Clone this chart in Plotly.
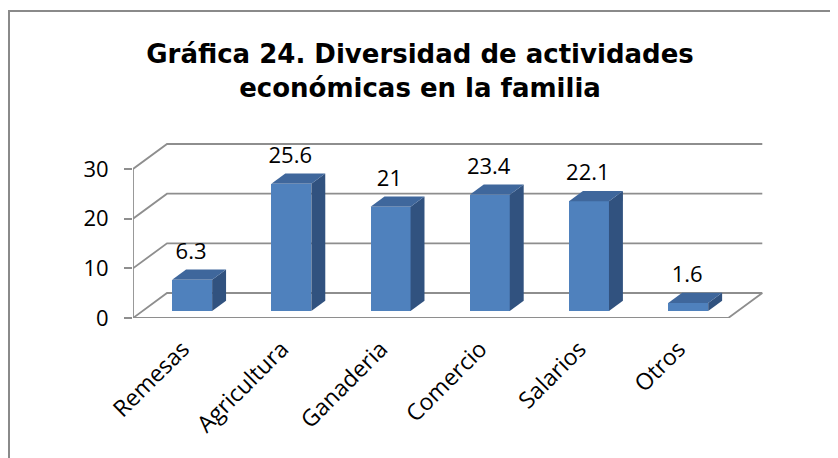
import plotly.graph_objects as go

categories = ["Remesas", "Agricultura", "Ganaderia", "Comercio", "Salarios", "Otros"]
values = [6.3, 25.6, 21, 23.4, 22.1, 1.6]
y_ticks = [0, 10, 20, 30]
value_labels = ["6.3", "25.6", "21", "23.4", "22.1", "1.6"]

# oblique projection of the 3-D box (in data units)
DX, DY = 0.3428, 5.033      # full depth offset
T0, T1 = 0.28, 0.69         # bar front / back depth
HALF_W = 0.2015             # half bar width
N = len(categories)

GRID = "#8e8e8e"
FRONT = "#4F81BD"
TOP = "#3f679c"
SIDE = "#31527f"
LABEL_FONT = "Open Sans, sans-serif"

W, H = 830, 450
ML, MR, MT, MB = 125, 75, 135, 140

fig = go.Figure()

shapes = []
# walls: gridlines on side and back wall
for v in y_ticks:
    shapes.append(dict(type="path", xref="x", yref="y", layer="below",
                       path=f"M 0,{v} L {DX},{v + DY} L {N + DX},{v + DY}",
                       line=dict(color=GRID, width=1.8)))
# floor front edge and right edge
shapes.append(dict(type="path", xref="x", yref="y", layer="below",
                   path=f"M 0,0 L {N},0 L {N + DX},{DY}",
                   line=dict(color=GRID, width=1.8)))
# front vertical axis line
shapes.append(dict(type="line", xref="x", yref="y", layer="below",
                   x0=0, y0=y_ticks[0], x1=0, y1=y_ticks[-1],
                   line=dict(color=GRID, width=1.8)))
# chart area frame (left and top edges)
fx = -(ML - 1) / (W - ML - MR)
fy = (H - MB - 3) / (H - MT - MB)
shapes.append(dict(type="path", xref="paper", yref="paper", layer="below",
                   path=f"M {fx},-1.2 L {fx},{fy} L 1.3,{fy}",
                   line=dict(color="#8a8a8a", width=2)))

# bars: front faces
fig.add_trace(go.Bar(
    x=[i + 0.5 + T0 * DX for i in range(N)],
    y=values,
    base=[T0 * DY] * N,
    width=2 * HALF_W,
    marker=dict(color=FRONT, line=dict(width=0)),
    hoverinfo="skip", showlegend=False,
))

# side and top faces
for i, v in enumerate(values):
    xl = i + 0.5 - HALF_W
    xr = i + 0.5 + HALF_W
    sx = [xr + T0 * DX, xr + T1 * DX, xr + T1 * DX, xr + T0 * DX, xr + T0 * DX]
    sy = [T0 * DY, T1 * DY, v + T1 * DY, v + T0 * DY, T0 * DY]
    fig.add_trace(go.Scatter(x=sx, y=sy, mode="lines", fill="toself",
                             fillcolor=SIDE, line=dict(width=0, color=SIDE),
                             hoverinfo="skip", showlegend=False))
    tx = [xl + T0 * DX, xr + T0 * DX, xr + T1 * DX, xl + T1 * DX, xl + T0 * DX]
    ty = [v + T0 * DY, v + T0 * DY, v + T1 * DY, v + T1 * DY, v + T0 * DY]
    fig.add_trace(go.Scatter(x=tx, y=ty, mode="lines", fill="toself",
                             fillcolor=TOP, line=dict(width=0, color=TOP),
                             hoverinfo="skip", showlegend=False))

# value labels
fig.add_trace(go.Scatter(
    x=[i + 0.585 for i in range(N)],
    y=[v + 6.7 for v in values],
    mode="text", text=value_labels, textposition="middle center",
    textfont=dict(family=LABEL_FONT, size=22, color="black"),
    hoverinfo="skip", showlegend=False, cliponaxis=False,
))

fig.update_layout(
    width=W, height=H,
    margin=dict(l=ML, r=MR, t=MT, b=MB),
    paper_bgcolor="white", plot_bgcolor="white",
    bargap=0,
    title=dict(
        text="Gráfica 24. Diversidad de actividades<br>económicas en la familia",
        x=412 / W, xref="container", xanchor="center",
        y=1 - 55 / H, yref="container", yanchor="top",
        font=dict(family="DejaVu Sans, sans-serif", size=26,
                  color="black", weight="bold"),
    ),
    xaxis=dict(
        range=[0, N + 0.35], showgrid=False, zeroline=False, showline=False,
        tickmode="array", tickvals=[i + 0.5 for i in range(N)], ticktext=categories,
        tickangle=-45, ticks="", ticklabelstandoff=12,
        tickfont=dict(family=LABEL_FONT, size=23, color="black"),
    ),
    yaxis=dict(
        range=[0, 35.23], showgrid=False, zeroline=False, showline=False,
        tickmode="array", tickvals=y_ticks,
        ticks="outside", ticklen=8, tickwidth=1.8, tickcolor=GRID,
        ticklabelstandoff=11,
        tickfont=dict(family=LABEL_FONT, size=22, color="black"),
    ),
    shapes=shapes,
)

fig.write_html("out.html")
